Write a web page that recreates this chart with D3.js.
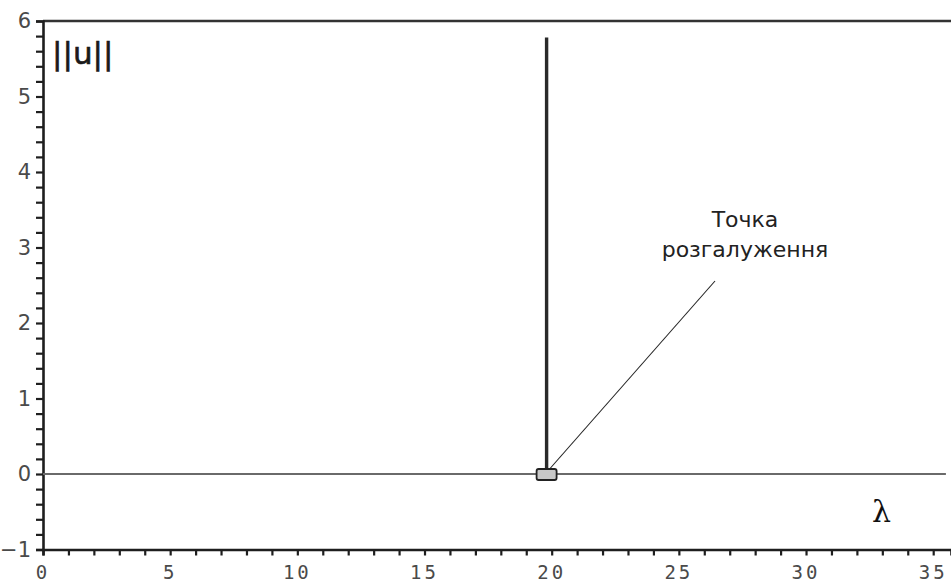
<!DOCTYPE html>
<html>
<head>
<meta charset="utf-8">
<script src="https://cdn.jsdelivr.net/npm/d3@7"></script>
<style>
  html, body { margin: 0; padding: 0; background: #fff; }
  svg { display: block; }
</style>
</head>
<body>
<svg id="chart" width="951" height="586"></svg>
<script>
// Bifurcation diagram: norm of the solution vs. parameter lambda
const xTickValues = [0, 5, 10, 15, 20, 25, 30, 35];
const yTickValues = [-1, 0, 1, 2, 3, 4, 5, 6];
const xDomain = [0, 35.7];
const yDomain = [-1, 6];

// trivial branch u = 0 along the lambda axis
const trivialLambda = [0, 35.5];
const trivialNorm = [0, 0];
// nontrivial branch rising from the bifurcation point
const branchLambda = [19.8, 19.8];
const branchNorm = [0, 5.78];
// bifurcation point
const bifLambda = 19.8;
const bifNorm = 0;

const annotationLines = ["Точка", "розгалуження"];

const svg = d3.select("#chart");
const W = 951, H = 586;
const margin = { left: 43, top: 21, right: 0, bottom: 36.5 };

const x = d3.scaleLinear().domain(xDomain).range([margin.left, W - margin.right]);
const y = d3.scaleLinear().domain(yDomain).range([H - margin.bottom, margin.top]);

const ink = "#1e1e1e";
const labelInk = "#4a4a4a";
const tickFont = "'DejaVu Sans Mono', monospace";

// top frame line
svg.append("line")
  .attr("x1", x(xDomain[0])).attr("x2", x(xDomain[1]))
  .attr("y1", y(yDomain[1])).attr("y2", y(yDomain[1]))
  .attr("stroke", "#333").attr("stroke-width", 2.4);

// x axis (ticks below)
const xMinor = d3.range(0, 36, 1);
const xAxis = d3.axisBottom(x).tickValues(xMinor).tickSize(6).tickFormat("");
const gx = svg.append("g")
  .attr("transform", `translate(0,${y(yDomain[0])})`)
  .call(xAxis);
gx.select(".domain").attr("stroke", ink).attr("stroke-width", 2.6);
gx.selectAll(".tick line").attr("stroke", ink).attr("stroke-width", 2.2);

svg.append("g").selectAll("text")
  .data(xTickValues)
  .join("text")
  .attr("x", d => x(d))
  .attr("y", 579)
  .attr("text-anchor", "middle")
  .attr("font-family", tickFont)
  .attr("font-size", 19)
  .attr("letter-spacing", 3)
  .attr("fill", labelInk)
  .text(d => d);

// y axis (ticks left)
const yMinor = d3.range(-1, 6.001, 0.2).map(v => +v.toFixed(1));
const yAxis = d3.axisLeft(y).tickValues(yMinor).tickSize(7).tickFormat("");
const gy = svg.append("g")
  .attr("transform", `translate(${x(xDomain[0])},0)`)
  .call(yAxis);
gy.select(".domain").attr("stroke", ink).attr("stroke-width", 2.6);
gy.selectAll(".tick line").attr("stroke", ink).attr("stroke-width", 2.2);

svg.append("g").selectAll("text")
  .data(yTickValues)
  .join("text")
  .attr("x", x(xDomain[0]) - 12)
  .attr("y", d => y(d))
  .attr("dy", "0.35em")
  .attr("text-anchor", "end")
  .attr("font-family", "'DejaVu Sans', sans-serif")
  .attr("font-size", 21)
  .attr("fill", labelInk)
  .text(d => d < 0 ? "\u2212" + Math.abs(d) : d);

const line = d3.line().x(d => x(d[0])).y(d => y(d[1]));

// trivial branch
svg.append("path")
  .datum(trivialLambda.map((l, i) => [l, trivialNorm[i]]))
  .attr("d", line)
  .attr("fill", "none")
  .attr("stroke", "#6a6a6a")
  .attr("stroke-width", 2);

// nontrivial branch
svg.append("path")
  .datum(branchLambda.map((l, i) => [l, branchNorm[i]]))
  .attr("d", line)
  .attr("fill", "none")
  .attr("stroke", "#2a2a2a")
  .attr("stroke-width", 3.4);

// bifurcation point marker
svg.append("rect")
  .attr("x", x(bifLambda) - 10)
  .attr("y", y(bifNorm) - 5)
  .attr("width", 20)
  .attr("height", 11)
  .attr("rx", 2)
  .attr("fill", "#c8c8c8")
  .attr("stroke", "#222")
  .attr("stroke-width", 1.8);

// annotation leader line
svg.append("line")
  .attr("x1", x(bifLambda) + 3).attr("y1", y(bifNorm) - 5)
  .attr("x2", 715).attr("y2", 281)
  .attr("stroke", "#222")
  .attr("stroke-width", 1.1);

svg.append("text")
  .attr("x", 745)
  .attr("y", 227)
  .attr("text-anchor", "middle")
  .attr("font-family", "'DejaVu Sans', sans-serif")
  .attr("font-size", 22)
  .attr("fill", "#222")
  .selectAll("tspan")
  .data(annotationLines)
  .join("tspan")
  .attr("x", 745)
  .attr("dy", (d, i) => i === 0 ? 0 : 30)
  .text(d => d);

// axis titles
svg.append("text")
  .attr("x", 52).attr("y", 64)
  .attr("font-family", "'DejaVu Sans', sans-serif")
  .attr("font-size", 31)
  .attr("fill", "#1a1a1a")
  .attr("stroke", "#1a1a1a")
  .attr("stroke-width", 0.6)
  .text("||u||");

svg.append("text")
  .attr("x", 872).attr("y", 522)
  .attr("font-family", "'DejaVu Serif', serif")
  .attr("font-size", 30)
  .attr("fill", "#111")
  .text("λ");
</script>
</body>
</html>
